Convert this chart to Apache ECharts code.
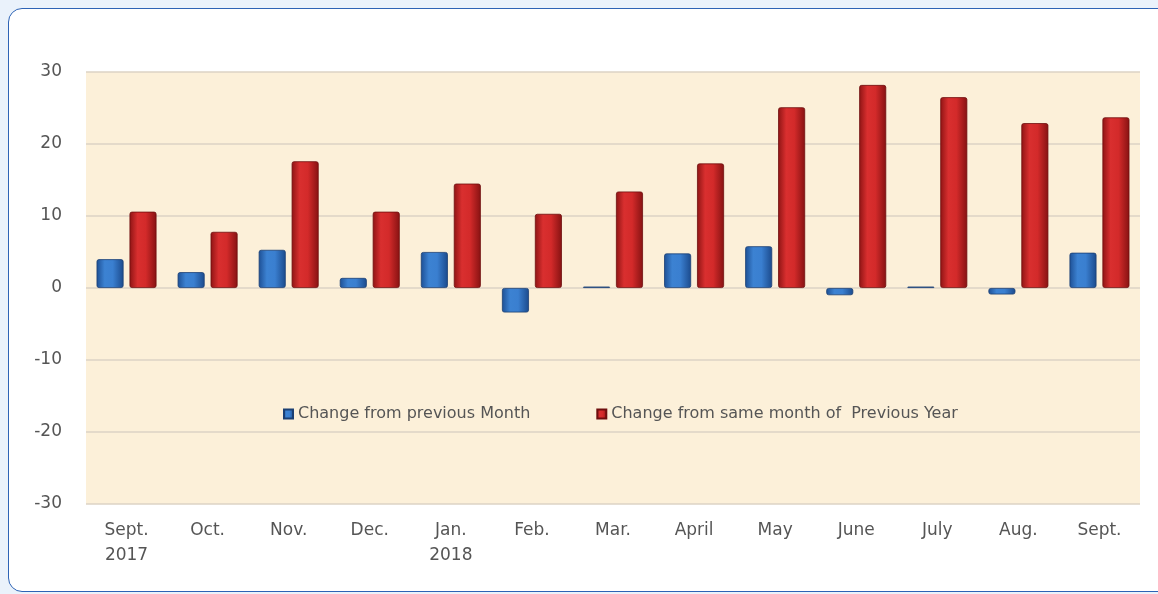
<!DOCTYPE html>
<html><head><meta charset="utf-8">
<script src="https://cdn.jsdelivr.net/npm/echarts@6/dist/echarts.min.js"></script>
<style>
html,body{margin:0;padding:0;width:1158px;height:594px;overflow:hidden;background:#eaf2fb;}
#box{position:absolute;left:8px;top:8px;width:1180px;height:582px;background:#fff;border:1.5px solid #2d63b5;border-radius:14px;}
#chart{position:absolute;left:0;top:0;width:1158px;height:594px;}
</style></head>
<body><div id="box"></div><div id="chart"></div>
<script>
const categories = ["Sept.\n2017","Oct.","Nov.","Dec.","Jan.\n2018","Feb.","Mar.","April","May","June","July","Aug.","Sept."];
const changeFromPrevMonth = [4.0, 2.2, 5.3, 1.4, 5.0, -3.4, 0.2, 4.8, 5.8, -1.0, 0.2, -0.9, 4.9];
const changeFromPrevYear = [10.6, 7.8, 17.6, 10.6, 14.5, 10.3, 13.4, 17.3, 25.1, 28.2, 26.5, 22.9, 23.7];
const yTicks = [-30, -20, -10, 0, 10, 20, 30];

const chart = echarts.init(document.getElementById('chart'), null, {renderer:'canvas'});
const blueGrad = new echarts.graphic.LinearGradient(0,0,1,0,[
  {offset:0,color:'#1d4f94'},{offset:0.3,color:'#3c82d2'},{offset:0.6,color:'#3a7fd0'},{offset:1,color:'#1b4a8c'}]);
const redGrad = new echarts.graphic.LinearGradient(0,0,1,0,[
  {offset:0,color:'#8e1414'},{offset:0.3,color:'#d92f2f'},{offset:0.6,color:'#d32a2a'},{offset:1,color:'#861212'}]);
chart.setOption({
  animation:false,
  backgroundColor:'transparent',
  grid:{left:86,right:18,top:72,bottom:90,show:true,backgroundColor:'#fcf0d9',borderWidth:0},
  legend:{
    top:401,left:278,itemWidth:9,itemHeight:9,itemGap:66,icon:'rect',
    textStyle:{fontFamily:'DejaVu Sans',fontSize:16,color:'#555'},
    data:['Change from previous Month','Change from same month of  Previous Year']
  },
  xAxis:{
    type:'category',data:categories,
    axisLine:{show:false},axisTick:{show:false},
    axisLabel:{fontFamily:'DejaVu Sans',fontSize:17,color:'#555',margin:14,lineHeight:25,verticalAlign:'top'}
  },
  yAxis:{
    type:'value',min:yTicks[0],max:yTicks[yTicks.length-1],interval:10,
    axisLine:{show:false},axisTick:{show:false},
    axisLabel:{fontFamily:'DejaVu Sans',fontSize:17,color:'#555',margin:24},
    splitLine:{lineStyle:{color:'#ddd3c4',width:1.5}}
  },
  series:[
    {name:'Change from previous Month',type:'bar',data:changeFromPrevMonth,barWidth:27,barGap:'22%',
     itemStyle:{color:blueGrad,borderColor:'#1b3f73',borderWidth:0.8,borderRadius:2}},
    {name:'Change from same month of  Previous Year',type:'bar',data:changeFromPrevYear,barWidth:27,barGap:'22%',
     itemStyle:{color:redGrad,borderColor:'#6e0e0e',borderWidth:0.8,borderRadius:2}}
  ]
});
</script></body></html>
